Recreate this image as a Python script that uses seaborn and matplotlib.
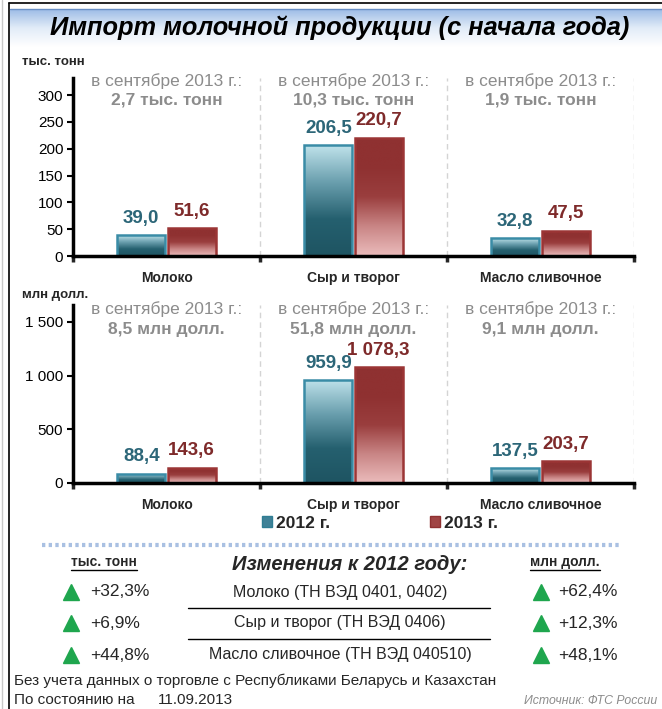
import numpy as np
import pandas as pd
import matplotlib
matplotlib.use('Agg')
import matplotlib.pyplot as plt
import seaborn as sb
from matplotlib.patches import Patch
from matplotlib.colors import LinearSegmentedColormap
from matplotlib.ticker import FuncFormatter

# DATA
categories = ['Молоко', 'Сыр и творог', 'Масло сливочное']
years = ['2012 г.', '2013 г.']
tonnes_2012 = [39.0, 206.5, 32.8]
tonnes_2013 = [51.6, 220.7, 47.5]
usd_2012 = [88.4, 959.9, 137.5]
usd_2013 = [143.6, 1078.3, 203.7]
sept_tonnes = ['2,7 тыс. тонн', '10,3 тыс. тонн', '1,9 тыс. тонн']
sept_usd = ['8,5 млн долл.', '51,8 млн долл.', '9,1 млн долл.']
table_rows = ['Молоко (ТН ВЭД 0401, 0402)', 'Сыр и творог (ТН ВЭД 0406)',
              'Масло сливочное (ТН ВЭД 040510)']
change_tonnes = ['+32,3%', '+6,9%', '+44,8%']
change_usd = ['+62,4%', '+12,3%', '+48,1%']

sb.set_style('white')
plt.rcParams['font.family'] = ['Liberation Sans', 'DejaVu Sans']

W, H = 662, 709
fig = plt.figure(figsize=(W / 100, H / 100), dpi=100)

# background layer in pixel coords
bg = fig.add_axes([0, 0, 1, 1], zorder=-1)
bg.set_xlim(0, W)
bg.set_ylim(H, 0)
bg.axis('off')

# frame
bg.plot([2, 2], [0, H], color='#c8c8c8', lw=1)
bg.plot([9, 9], [3, H], color='black', lw=1.2)
bg.plot([9, W], [3, 3], color='black', lw=1.2)

# title banner with gradient
band = np.linspace(0, 1, 100).reshape(-1, 1)
banner_cmap = LinearSegmentedColormap.from_list('banner', ['#9dbce6', '#e2ecf8', '#ffffff'])
bg.imshow(band, cmap=banner_cmap, extent=(10, W, 47, 9), aspect='auto', zorder=0)
bg.set_xlim(0, W)
bg.set_ylim(H, 0)
bg.plot([10, W], [9, 9], color='#6a90c6', lw=1)
bg.text(340, 28, 'Импорт молочной продукции (с начала года)', ha='center', va='center',
        fontsize=18.3, fontweight='bold', fontstyle='italic', color='black')

c12_cmap = LinearSegmentedColormap.from_list('c12', ['#1e5462', '#25606f', '#6a9fae', '#c0e3eb'])
c13_cmap = LinearSegmentedColormap.from_list('c13', ['#ebbcbc', '#c98585', '#9a3e3e', '#8f3131', '#8f3131'])
grad = np.linspace(0, 1, 256).reshape(-1, 1)


def ru(v):
    return f'{v:,.1f}'.replace(',', ' ').replace('.', ',')


def draw_panel(rect, v12, v13, ymax, yticks, sept, label_y):
    ax = fig.add_axes(rect)
    ax.patch.set_alpha(0)
    df = pd.DataFrame({'cat': categories * 2,
                       'year': [years[0]] * 3 + [years[1]] * 3,
                       'val': v12 + v13})
    sb.barplot(data=df, x='cat', y='val', hue='year', palette=['#3f8197', '#a04444'],
               width=0.54, gap=0.05, saturation=1, errorbar=None, legend=False, ax=ax)
    cmaps = [c12_cmap, c13_cmap]
    edges = ['#3a8ca6', '#9b3535']
    lab_cols = ['#2c6678', '#7e2a2a']
    vals = [v12, v13]
    for i, cont in enumerate(ax.containers):
        for bar in cont:
            x, y = bar.get_x(), bar.get_y()
            w, h = bar.get_width(), bar.get_height()
            im = ax.imshow(grad, cmap=cmaps[i], extent=(x, x + w, y, y + h),
                           origin='lower', aspect='auto', zorder=0.9)
            im.set_clip_path(bar)
            bar.set_facecolor('none')
            bar.set_edgecolor(edges[i])
            bar.set_linewidth(1.8)
            bar.set_zorder(1)
        ax.bar_label(cont, labels=[ru(v) for v in vals[i]], padding=6, color=lab_cols[i],
                     fontsize=13.5, fontweight='bold')
    ax.set_xlim(-0.5, 2.5)
    ax.set_ylim(0, ymax)
    for s in ['top', 'right']:
        ax.spines[s].set_visible(False)
    for s in ['left', 'bottom']:
        ax.spines[s].set_linewidth(2.5)
        ax.spines[s].set_color('black')
    ax.set_yticks(yticks)
    ax.yaxis.set_major_formatter(FuncFormatter(lambda v, p: f'{int(v):,}'.replace(',', ' ')))
    ax.tick_params(axis='y', direction='out', length=4, width=1.5, labelsize=11, pad=3,
                   left=True, colors='black')
    ax.set_xticks(range(len(categories)))
    ax.set_xticklabels(categories, fontweight='bold', fontsize=10)
    ax.tick_params(axis='x', length=0, pad=11)
    ax.set_xticks([-0.5, 0.5, 1.5, 2.5], minor=True)
    ax.tick_params(axis='x', which='minor', direction='out', length=4, width=2.5, bottom=True)
    ax.set_xlabel('')
    ax.set_ylabel('')
    for b in [0.5, 1.5, 2.5]:
        ax.axvline(b, color='#d4d4d4', ls=(0, (4, 3)), lw=1, zorder=0.5)
    for i, t in enumerate(sept):
        ax.text(i, label_y[0], 'в сентябре 2013 г.:', transform=ax.get_xaxis_transform(),
                ha='center', va='center', fontsize=12.5, color='#8c8c8c')
        ax.text(i, label_y[1], t, transform=ax.get_xaxis_transform(),
                ha='center', va='center', fontsize=12.5, fontweight='bold', color='#8c8c8c')
    return ax


draw_panel([73 / W, 1 - 256 / H, 561 / W, 178 / H], tonnes_2012, tonnes_2013, 332,
           [0, 50, 100, 150, 200, 250, 300], sept_tonnes, (0.985, 0.875))
draw_panel([73 / W, 1 - 483 / H, 561 / W, 178 / H], usd_2012, usd_2013, 1658,
           [0, 500, 1000, 1500], sept_usd, (0.975, 0.86))

bg.text(22, 62, 'тыс. тонн', ha='left', va='center', fontsize=9.5, fontweight='bold')
bg.text(22, 295, 'млн долл.', ha='left', va='center', fontsize=9.5, fontweight='bold')

fig.legend(handles=[Patch(fc='#3f8197', ec='#2f7d93'), Patch(fc='#a04444', ec='#8f3131')],
           labels=years, loc='center', bbox_to_anchor=(380 / W, 1 - 523 / H), ncol=2,
           frameon=False, handlelength=0.6, handleheight=0.6, handletextpad=0.25,
           columnspacing=5.7, prop={'weight': 'bold', 'size': 12.5})

# dotted separator
bg.plot([42, 620], [545, 545], color='#a9c0e2', lw=3, ls=(0, (0.8, 0.8)))

# changes table
t1 = bg.text(104, 562, 'тыс. тонн', ha='center', va='center', fontsize=10, fontweight='bold')
t2 = bg.text(565, 562, 'млн долл.', ha='center', va='center', fontsize=10, fontweight='bold')
bg.text(350, 565, 'Изменения к 2012 году:', ha='center', va='center', fontsize=14.5,
        fontweight='bold', fontstyle='italic')
fig.canvas.draw()
inv = bg.transData.inverted()
for t in [t1, t2]:
    bb = t.get_window_extent()
    (x0, _), (x1, _) = inv.transform([(bb.x0, bb.y0), (bb.x1, bb.y0)])
    bg.plot([x0, x1], [570, 570], color='black', lw=1)

row_y = [592, 623, 655]
for i, name in enumerate(table_rows):
    y = row_y[i]
    bg.plot(71, y, marker='^', color='#1fa64e', markersize=12, ls='none')
    bg.text(90, y, change_tonnes[i], ha='left', va='center', fontsize=12.5)
    bg.text(340, y, name, ha='center', va='center', fontsize=11.5)
    bg.plot(541, y, marker='^', color='#1fa64e', markersize=12, ls='none')
    bg.text(558, y, change_usd[i], ha='left', va='center', fontsize=12.5)
    if i < len(table_rows) - 1:
        bg.plot([188, 490], [y + 15.5, y + 15.5], color='black', lw=1)

bg.text(14, 681, 'Без учета данных о торговле с Республиками Беларусь и Казахстан',
        ha='left', va='center', fontsize=11)
bg.text(14, 700, 'По состоянию на', ha='left', va='center', fontsize=11)
bg.text(158, 700, '11.09.2013', ha='left', va='center', fontsize=11)
bg.text(657, 701, 'Источник: ФТС России', ha='right', va='center', fontsize=8.8,
        fontstyle='italic', color='#8c8c8c')

fig.savefig('out.png', dpi=100)
